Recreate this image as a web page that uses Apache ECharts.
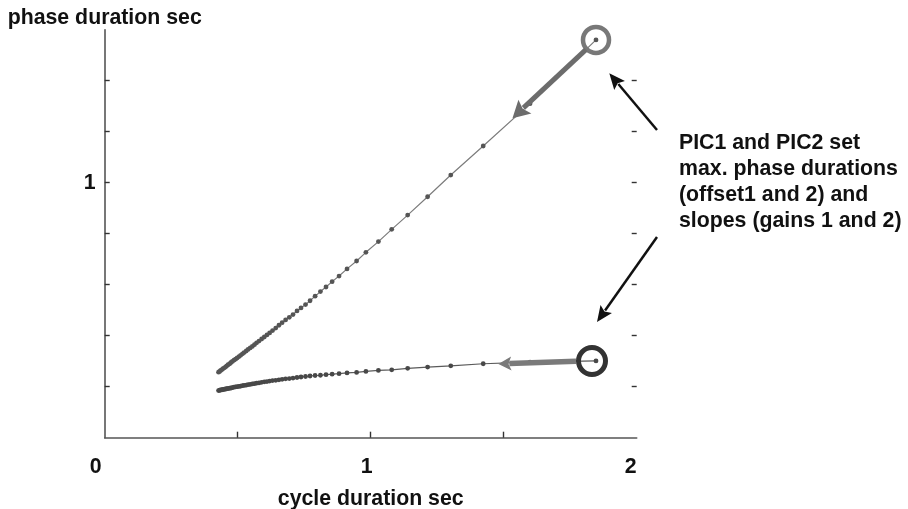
<!DOCTYPE html>
<html>
<head>
<meta charset="utf-8">
<script src="https://cdn.jsdelivr.net/npm/echarts@6/dist/echarts.min.js"></script>
<style>
html,body{margin:0;padding:0;background:#fff;}
#chart{width:908px;height:509px;}
</style>
</head>
<body>
<div id="chart"></div>
<script>
// cycle duration (sec) of each computed point
const cycleDur = [0.428,0.432,0.436,0.441,0.445,0.450,0.455,0.459,0.464,0.470,0.475,0.480,0.486,0.492,0.498,0.505,0.511,0.518,0.524,0.532,0.539,0.547,0.555,0.563,0.571,0.580,0.590,0.600,0.610,0.620,0.631,0.643,0.655,0.667,0.680,0.694,0.708,0.723,0.738,0.755,0.772,0.791,0.811,0.832,0.855,0.881,0.911,0.947,0.982,1.029,1.079,1.139,1.214,1.301,1.423,1.599,1.847];
// phase 1 duration (sec) – upper curve
const phase1Dur = [0.257,0.260,0.264,0.267,0.271,0.274,0.278,0.282,0.286,0.290,0.295,0.299,0.304,0.308,0.313,0.318,0.323,0.329,0.334,0.340,0.346,0.352,0.358,0.365,0.372,0.379,0.387,0.395,0.403,0.411,0.420,0.430,0.441,0.451,0.462,0.472,0.483,0.497,0.509,0.522,0.537,0.555,0.573,0.591,0.612,0.634,0.662,0.693,0.727,0.769,0.817,0.873,0.945,1.030,1.144,1.310,1.560];
// phase 2 duration (sec) – lower curve
const phase2Dur = [0.185,0.186,0.187,0.188,0.189,0.190,0.191,0.192,0.193,0.194,0.195,0.196,0.198,0.199,0.200,0.201,0.202,0.204,0.205,0.206,0.208,0.209,0.211,0.212,0.214,0.215,0.217,0.219,0.220,0.222,0.224,0.225,0.227,0.229,0.231,0.232,0.234,0.236,0.238,0.240,0.242,0.244,0.245,0.247,0.249,0.251,0.254,0.256,0.260,0.264,0.266,0.272,0.277,0.282,0.290,0.296,0.301];
// tick labels / tick marks
const xTickLabels = [0, 1, 2];
const xTickMarks = [0.5, 1, 1.5];
const yTickLabels = [1];
const yTickMarks = [0.2, 0.4, 0.6, 0.8, 1.0, 1.2, 1.4];
const annotationText = ['PIC1 and PIC2 set', 'max. phase durations', '(offset1 and 2) and', 'slopes (gains 1 and 2)'];

const FONT = '"Liberation Sans", Arial, Helvetica, sans-serif';
const FS = 21.3;
const upperData = cycleDur.map((x, i) => [x, phase1Dur[i]]);
const lowerData = cycleDur.map((x, i) => [x, phase2Dur[i]]);
const last = cycleDur.length - 1;

function arrow(x1, y1, x2, y2, w, headLen, headW, color) {
  const dx = x2 - x1, dy = y2 - y1, L = Math.hypot(dx, dy);
  const ux = dx / L, uy = dy / L, nx = -uy, ny = ux;
  const bx = x2 - ux * headLen, by = y2 - uy * headLen;
  return [
    { type: 'line', silent: true, z: 10, shape: { x1: x1, y1: y1, x2: bx + ux * 2, y2: by + uy * 2 }, style: { stroke: color, lineWidth: w } },
    { type: 'polygon', silent: true, z: 10, shape: { points: [[x2, y2], [bx + nx * headW / 2, by + ny * headW / 2], [bx + ux * 3, by + uy * 3], [bx - nx * headW / 2, by - ny * headW / 2]] }, style: { fill: color } }
  ];
}

const chart = echarts.init(document.getElementById('chart'), null, { renderer: 'canvas' });
const lbl = { fontFamily: FONT, fontWeight: 'bold', fontSize: FS, color: '#111' };
const labelRich = {
  a: Object.assign({}, lbl, { padding: [0, 18, 0, 0] }),
  b: Object.assign({}, lbl, { padding: [0, 8, 0, 0] }),
  c: Object.assign({}, lbl, { padding: [0, 12, 0, 0] })
};
chart.setOption({
  animation: false,
  backgroundColor: '#fff',
  grid: { left: 104.7, right: 271.3, top: 29.7, bottom: 71.3, containLabel: false, outerBoundsMode: 'none' },
  xAxis: {
    type: 'value', min: 0, max: 2, interval: 0.5,
    name: 'cycle duration sec', nameLocation: 'middle', nameGap: 51,
    nameTextStyle: lbl,
    axisLine: { show: true, onZero: false, lineStyle: { color: '#555', width: 1.6 } },
    axisTick: { show: true, inside: true, length: 6, customValues: xTickMarks, lineStyle: { color: '#333', width: 1.4 } },
    axisLabel: {
      show: true, margin: 19, customValues: xTickLabels,
      formatter: function (v) { const k = v === 0 ? 'a' : (v === 1 ? 'b' : 'c'); return '{' + k + '|' + v + '}'; },
      rich: labelRich
    },
    splitLine: { show: false }
  },
  yAxis: [{
    type: 'value', min: 0, max: 1.6, interval: 0.2,
    name: 'phase duration sec', nameLocation: 'end', nameGap: 1,
    nameTextStyle: Object.assign({}, lbl, { align: 'center', verticalAlign: 'bottom' }),
    axisLine: { show: true, onZero: false, lineStyle: { color: '#555', width: 1.6 } },
    axisTick: { show: true, inside: true, length: 5, customValues: yTickMarks, lineStyle: { color: '#333', width: 1.4 } },
    axisLabel: Object.assign({ show: true, margin: 9, customValues: yTickLabels }, lbl),
    splitLine: { show: false }
  }, {
    type: 'value', min: 0, max: 1.6, interval: 0.2, position: 'right',
    axisLine: { show: true, onZero: false, lineStyle: { color: '#fff', opacity: 0, width: 0 } },
    axisTick: { show: true, inside: true, length: 5, customValues: yTickMarks, lineStyle: { color: '#333', width: 1.4 } },
    axisLabel: { show: false },
    splitLine: { show: false }
  }],
  series: [{
    type: 'line', name: 'phase 1', data: upperData,
    symbol: 'circle', symbolSize: 4.8, showSymbol: true,
    lineStyle: { color: '#7c7c7c', width: 1.2 },
    itemStyle: { color: '#555' },
    emphasis: { disabled: true }, silent: true, z: 3,
    markPoint: {
      silent: true, animation: false,
      symbol: 'circle', symbolSize: 26,
      itemStyle: { color: 'rgba(0,0,0,0)', borderColor: '#787878', borderWidth: 4.5 },
      label: { show: false },
      data: [{ coord: [cycleDur[last], phase1Dur[last]] }]
    }
  }, {
    type: 'line', name: 'phase 2', data: lowerData,
    symbol: 'circle', symbolSize: 4.8, showSymbol: true,
    lineStyle: { color: '#5a5a5a', width: 1.2 },
    itemStyle: { color: '#484848' },
    emphasis: { disabled: true }, silent: true, z: 3,
    markPoint: {
      silent: true, animation: false,
      symbol: 'circle', symbolSize: 27, symbolOffset: [-4, 0],
      itemStyle: { color: 'rgba(0,0,0,0)', borderColor: '#333', borderWidth: 5 },
      label: { show: false },
      data: [{ coord: [cycleDur[last], phase2Dur[last]] }]
    }
  }]
});

// annotation arrows: grey ones placed in data space, black ones in page space
const p = (x, y) => chart.convertToPixel({ gridIndex: 0 }, [x, y]);
const gu1 = p(1.809, 1.522), gu2 = p(1.533, 1.253);
const gl1 = p(1.772, 0.300), gl2 = p(1.480, 0.289);
chart.setOption({
  graphic: [].concat(
    arrow(gu1[0], gu1[1], gu2[0], gu2[1], 5, 17, 19, '#6c6c6c'),
    arrow(gl1[0], gl1[1], gl2[0], gl2[1], 5.5, 13, 14, '#7a7a7a'),
    arrow(657, 130, 609.3, 73.3, 2.5, 16, 14, '#111'),
    arrow(657, 237, 597, 322, 2.5, 16, 14, '#111'),
    [{
      type: 'text', silent: true, left: 679, top: 130,
      style: { text: annotationText.join('\n'), font: 'bold ' + FS + 'px ' + FONT, fill: '#111', lineHeight: 26 }
    }]
  )
});
</script>
</body>
</html>
